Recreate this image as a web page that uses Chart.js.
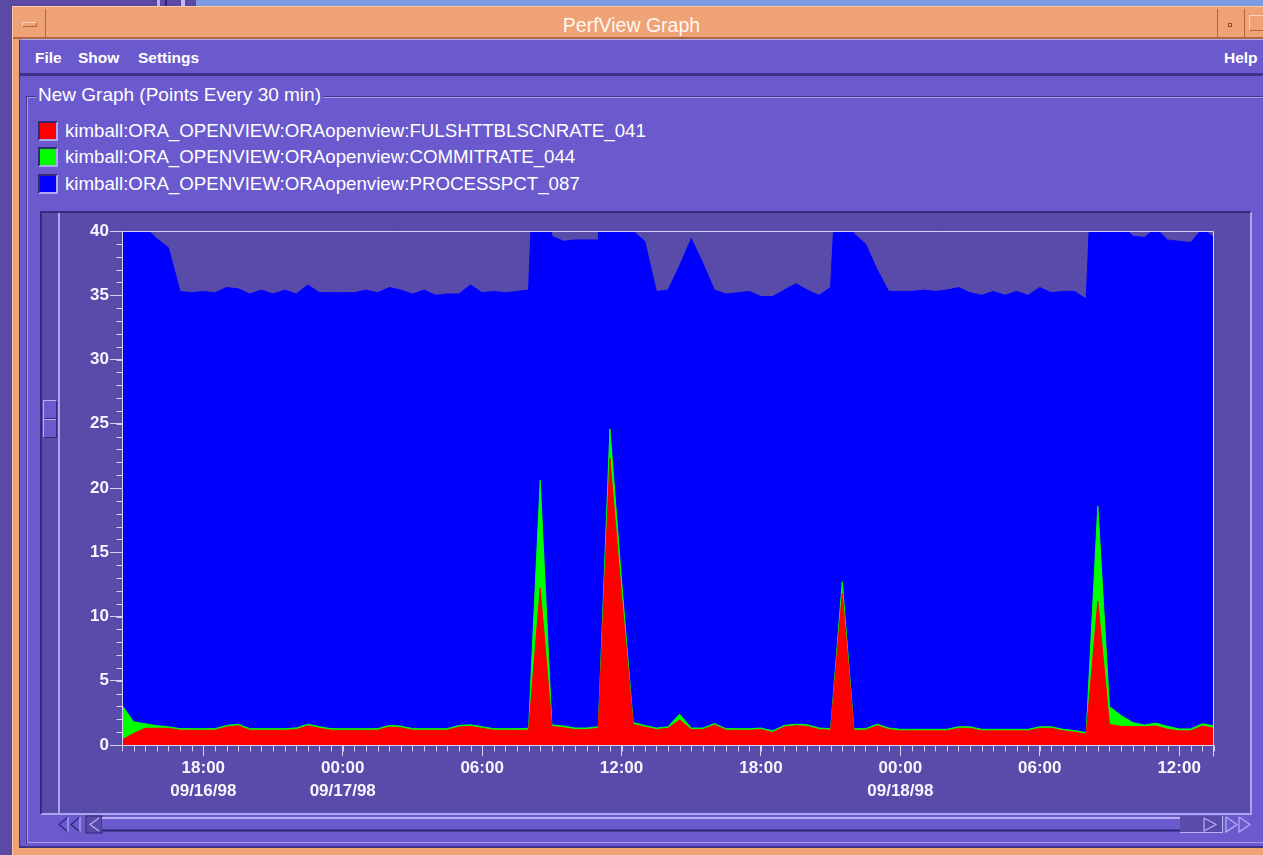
<!DOCTYPE html>
<html>
<head>
<meta charset="utf-8">
<title>PerfView Graph</title>
<script src="https://cdn.jsdelivr.net/npm/chart.js@4.4.0/dist/chart.umd.min.js"></script>
<style>
html, body { margin: 0; padding: 0; }
body {
    width: 1263px; height: 855px; overflow: hidden; position: relative;
    background: #5a4aa6; color: #fff;
    font-family: "Liberation Sans", Arial, sans-serif;
}
.abs { position: absolute; box-sizing: border-box; }
.menu { position: absolute; top: 41px; line-height: 33px; font-weight: bold; font-size: 15.5px; }
.swatch { position: absolute; left: 38px; width: 20px; height: 20px; box-sizing: border-box;
    border: 2px solid; border-color: #33287a #aea6f0 #aea6f0 #33287a; }
.legtext { position: absolute; left: 65px; font-size: 18.7px; line-height: 22px; white-space: nowrap; }
</style>
</head>
<body>

<!-- desktop strip behind the window -->
<div class="abs" style="left:196px;top:0;width:1067px;height:6px;background:#7e9be2"></div>
<div class="abs" style="left:157px;top:0;width:3px;height:7px;background:#b9b2ee"></div>
<div class="abs" style="left:165px;top:0;width:2px;height:7px;background:#2e2470"></div>
<div class="abs" style="left:181px;top:0;width:4px;height:7px;background:#c0b8f2"></div>

<!-- window frame + title bar -->
<div class="abs" style="left:12px;top:6px;width:1260px;height:849px;background:#efa276;border-top:1px solid #f9caa9;border-left:1px solid #f9caa9"></div>
<div class="abs" style="left:13px;top:9px;width:33px;height:29px;border-right:1px solid #a9683f;border-bottom:1px solid #a9683f"></div>
<div class="abs" style="left:22px;top:22px;width:15px;height:5px;border:1px solid;border-color:#fbd3b6 #a9683f #a9683f #fbd3b6"></div>
<div class="abs" style="left:0;top:13px;width:1263px;text-align:center;font-size:19.5px;line-height:24px;color:#fff8f2">PerfView Graph</div>
<div class="abs" style="left:1217px;top:9px;width:1px;height:29px;background:#a9683f"></div>
<div class="abs" style="left:1228px;top:23px;width:4px;height:4px;border:1px solid #8a5030"></div>
<div class="abs" style="left:1244px;top:9px;width:1px;height:29px;background:#a9683f"></div>
<div class="abs" style="left:1249px;top:15px;width:20px;height:16px;border:1px solid;border-color:#fbd3b6 #a9683f #a9683f #fbd3b6"></div>
<div class="abs" style="left:13px;top:37px;width:1250px;height:2px;background:#a9683f"></div>

<!-- window body -->
<div class="abs" style="left:19px;top:39px;width:1244px;height:809px;background:#6a5acd;border-top:1px solid #b3abee;border-left:1px solid #3e3288;border-bottom:2px solid #3e3288"></div>

<!-- menu bar -->
<div class="abs" style="left:20px;top:73px;width:1243px;height:3px;background:#3e3288"></div>
<div class="menu" style="left:35px">File</div>
<div class="menu" style="left:78px">Show</div>
<div class="menu" style="left:138px">Settings</div>
<div class="menu" style="left:1224px">Help</div>

<!-- group box -->
<div class="abs" style="left:26px;top:96px;width:1250px;height:748px;border-top:1px solid #43378f;border-left:1px solid #43378f"></div>
<div class="abs" style="left:27px;top:97px;width:1250px;height:746px;border-top:1px solid #a59be6;border-left:1px solid #a59be6;border-bottom:1px solid #a59be6"></div>
<div class="abs" style="left:36px;top:84px;padding:0 2px;background:#6a5acd;font-size:19px;line-height:22px;white-space:nowrap">New Graph (Points Every 30 min)</div>

<!-- legend -->
<div id="legend"></div>

<!-- chart panel -->
<div class="abs" style="left:40px;top:211px;width:1212px;height:604px;background:#584ba9;border:2px solid;border-color:#372b7e #aca4ee #aca4ee #372b7e"></div>
<div class="abs" style="left:42px;top:213px;width:18px;height:600px;border-right:2px solid #aca4ee"></div>
<div class="abs" style="left:43px;top:400px;width:14px;height:38px;background:#6a5acd;border:1px solid;border-color:#b8b0f4 #33287a #33287a #b8b0f4"></div>
<div class="abs" style="left:44px;top:418px;width:12px;height:1px;background:#33287a"></div>
<div class="abs" style="left:44px;top:419px;width:12px;height:1px;background:#b8b0f4"></div>

<div class="abs" style="left:60px;top:213px;width:1189px;height:599px">
    <canvas id="perfChart" width="1189" height="599"></canvas>
</div>

<!-- horizontal scrollbar -->
<svg class="abs" style="left:56px;top:815px" width="1200" height="19" viewBox="0 0 1200 19">
    <g fill="none" stroke-width="1.2">
        <polyline points="12,2 3,9.5 12,17" stroke="#2f2578"/>
        <polyline points="12,2 12,17" stroke="#b8b0f4"/>
        <polyline points="24,2 15,9.5 24,17" stroke="#2f2578"/>
        <polyline points="24,2 24,17" stroke="#b8b0f4"/>
    </g>
    <rect x="30" y="1" width="16" height="17" fill="#584ba9" stroke="#2f2578"/>
    <polyline points="43,3 34,9.5 43,16" fill="none" stroke="#b8b0f4" stroke-width="1.2"/>
    <rect x="46" y="2" width="1078" height="15" fill="#6a5acd"/>
    <line x1="46" y1="3" x2="1124" y2="3" stroke="#b8b0f4" stroke-width="2"/>
    <line x1="46" y1="15.5" x2="1124" y2="15.5" stroke="#2f2578" stroke-width="2"/>
    <rect x="1124" y="1" width="42" height="17" fill="#584ba9"/>
    <line x1="1124" y1="17.5" x2="1166" y2="17.5" stroke="#b8b0f4"/>
    <line x1="1166.5" y1="1" x2="1166.5" y2="18" stroke="#b8b0f4"/>
    <polyline points="1148,3 1160,9.5 1148,16 1148,3" fill="none" stroke="#b8b0f4" stroke-width="1.2"/>
    <g fill="none" stroke-width="1.2">
        <polyline points="1170,2 1181,9.5 1170,17 1170,2" stroke="#b8b0f4"/>
        <polyline points="1183,2 1194,9.5 1183,17 1183,2" stroke="#b8b0f4"/>
    </g>
</svg>

<script>
// series names as shown in the legend
const seriesNames = [
    'kimball:ORA_OPENVIEW:ORAopenview:FULSHTTBLSCNRATE_041',
    'kimball:ORA_OPENVIEW:ORAopenview:COMMITRATE_044',
    'kimball:ORA_OPENVIEW:ORAopenview:PROCESSPCT_087'
];
const seriesColors = ['#ff0000', '#00ff00', '#0000ff'];

// one point every 30 min, first point 09/16/98 14:30
const fullScanRate = [
    0.4, 0.9, 1.3, 1.3, 1.3, 1.15, 1.15, 1.15, 1.15, 1.4,
    1.5, 1.15, 1.15, 1.15, 1.15, 1.2, 1.5, 1.3, 1.15, 1.15,
    1.15, 1.15, 1.15, 1.4, 1.35, 1.15, 1.15, 1.15, 1.15, 1.4,
    1.45, 1.3, 1.15, 1.15, 1.15, 1.15, 12.2, 1.45, 1.35, 1.2,
    1.2, 1.3, 22.3, 11.6, 1.6, 1.4, 1.2, 1.3, 1.95, 1.2,
    1.2, 1.55, 1.15, 1.15, 1.15, 1.2, 0.98, 1.4, 1.5, 1.45,
    1.2, 1.15, 11.8, 1.15, 1.15, 1.5, 1.2, 1.1, 1.1, 1.1,
    1.1, 1.1, 1.3, 1.3, 1.1, 1.1, 1.1, 1.1, 1.1, 1.3,
    1.3, 1.1, 1.0, 0.85, 11.2, 1.6, 1.45, 1.43, 1.43, 1.48,
    1.22, 1.1, 1.1, 1.48, 1.3
];
const commitRate = [
    3.1, 1.8, 1.65, 1.5, 1.42, 1.27, 1.27, 1.27, 1.27, 1.52,
    1.62, 1.27, 1.27, 1.27, 1.27, 1.32, 1.62, 1.42, 1.27, 1.27,
    1.27, 1.27, 1.27, 1.52, 1.47, 1.27, 1.27, 1.27, 1.27, 1.52,
    1.57, 1.42, 1.27, 1.27, 1.27, 1.3, 20.6, 1.57, 1.47, 1.32,
    1.32, 1.42, 24.6, 12.8, 1.75, 1.52, 1.32, 1.42, 2.4, 1.32,
    1.32, 1.67, 1.27, 1.27, 1.27, 1.32, 1.1, 1.52, 1.62, 1.57,
    1.32, 1.27, 12.7, 1.27, 1.27, 1.62, 1.32, 1.22, 1.22, 1.22,
    1.22, 1.22, 1.42, 1.42, 1.22, 1.22, 1.22, 1.22, 1.22, 1.42,
    1.42, 1.22, 1.12, 0.97, 18.6, 3.0, 2.3, 1.75, 1.55, 1.7,
    1.45, 1.25, 1.25, 1.65, 1.5
];
const processPct = [
    40.3, 39.85, 40.3, 39.4, 38.7, 35.3, 35.2, 35.3, 35.2, 35.6,
    35.5, 35.1, 35.4, 35.1, 35.4, 35.1, 35.8, 35.2, 35.2, 35.2,
    35.2, 35.4, 35.2, 35.6, 35.4, 35.1, 35.4, 35.0, 35.1, 35.1,
    35.8, 35.2, 35.3, 35.2, 35.3, 35.4, 58.6, 39.6, 39.2, 39.3,
    39.3, 39.3, 70, 70, 40.0, 39.2, 35.3, 35.4, 37.3, 39.4,
    37.5, 35.4, 35.1, 35.2, 35.3, 34.9, 34.9, 35.4, 35.9, 35.4,
    35.0, 35.6, 53.8, 39.8, 39.0, 37.0, 35.3, 35.3, 35.3, 35.4,
    35.3, 35.4, 35.6, 35.2, 35.0, 35.3, 35.0, 35.3, 35.0, 35.6,
    35.2, 35.3, 35.3, 34.7, 56, 45, 40.6, 39.6, 39.5, 40.2,
    39.3, 39.2, 39.1, 40.2, 39.5
];

// x tick labels (position = half-hour index)
const tickIndex = [7, 19, 31, 43, 55, 67, 79, 91];
const tickTime = ['18:00', '00:00', '06:00', '12:00', '18:00', '00:00', '06:00', '12:00'];
const tickDate = ['09/16/98', '09/17/98', '', '', '', '09/18/98', '', ''];

const AXIS_COLOR = '#d6d0f6';
const LABEL_COLOR = '#f7f5ff';

// legend rows
const legendTops = [121, 147, 174];
const legend = document.getElementById('legend');
seriesNames.forEach((name, i) => {
    const sw = document.createElement('div');
    sw.className = 'swatch';
    sw.style.top = legendTops[i] + 'px';
    sw.style.background = seriesColors[i];
    legend.appendChild(sw);
    const tx = document.createElement('div');
    tx.className = 'legtext';
    tx.style.top = (legendTops[i] - 1) + 'px';
    tx.textContent = name;
    legend.appendChild(tx);
});

function toPoints(values) {
    return values.map((v, i) => ({ x: i, y: v }));
}

// minor ticks and the plot frame
const frameLines = {
    id: 'frameLines',
    afterDatasetsDraw(chart) {
        const { ctx, chartArea: a, scales: { x, y } } = chart;
        const L = Math.round(a.left) + 0.5;
        const R = Math.round(a.right) - 0.5;
        const T = Math.round(a.top) + 0.5;
        const B = Math.round(a.bottom) + 0.5;
        ctx.save();
        ctx.strokeStyle = AXIS_COLOR;
        ctx.lineWidth = 1;
        ctx.beginPath();
        for (let i = x.min; i <= x.max; i++) {
            const px = Math.round(x.getPixelForValue(i)) + 0.5;
            ctx.moveTo(px, B);
            ctx.lineTo(px, B + 6);
        }
        for (let v = y.min; v <= y.max; v++) {
            const py = Math.round(y.getPixelForValue(v)) + 0.5;
            ctx.moveTo(L - 6, py);
            ctx.lineTo(L, py);
        }
        ctx.moveTo(L, B);
        ctx.lineTo(L, T);
        ctx.lineTo(R, T);
        ctx.lineTo(R, B + 11);
        ctx.moveTo(L, B);
        ctx.lineTo(R, B);
        ctx.stroke();
        ctx.restore();
    }
};

const tickFont = { family: 'Liberation Sans', size: 17, weight: 'bold', lineHeight: '23px' };

function areaSet(idx, values) {
    return {
        label: seriesNames[idx],
        data: toPoints(values),
        borderColor: seriesColors[idx],
        backgroundColor: seriesColors[idx],
        borderWidth: 1,
        pointRadius: 0,
        tension: 0,
        fill: 'origin'
    };
}

new Chart(document.getElementById('perfChart'), {
    type: 'line',
    data: {
        datasets: [
            areaSet(0, fullScanRate),
            areaSet(1, commitRate),
            areaSet(2, processPct)
        ]
    },
    options: {
        responsive: false,
        animation: false,
        events: [],
        layout: { padding: { top: 18, right: 35, left: 0, bottom: 0 } },
        plugins: {
            legend: { display: false },
            tooltip: { enabled: false }
        },
        scales: {
            x: {
                type: 'linear',
                min: 0,
                max: fullScanRate.length - 1,
                afterFit: s => { s.height = 67; },
                afterBuildTicks: s => { s.ticks = tickIndex.map(v => ({ value: v })); },
                border: { display: false },
                grid: { display: true, drawOnChartArea: false, drawTicks: true, tickLength: 11, color: AXIS_COLOR, tickColor: AXIS_COLOR },
                ticks: {
                    autoSkip: false,
                    maxRotation: 0,
                    padding: 1,
                    color: LABEL_COLOR,
                    font: tickFont,
                    callback: value => {
                        const k = tickIndex.indexOf(value);
                        if (k < 0) return '';
                        return tickDate[k] ? [tickTime[k], tickDate[k]] : tickTime[k];
                    }
                }
            },
            y: {
                min: 0,
                max: 40,
                afterFit: s => { s.width = 62; },
                border: { display: false },
                grid: { display: true, drawOnChartArea: false, drawTicks: true, tickLength: 12, color: AXIS_COLOR, tickColor: AXIS_COLOR },
                ticks: {
                    stepSize: 5,
                    padding: 1,
                    color: LABEL_COLOR,
                    font: tickFont
                }
            }
        }
    },
    plugins: [frameLines]
});
</script>
</body>
</html>
